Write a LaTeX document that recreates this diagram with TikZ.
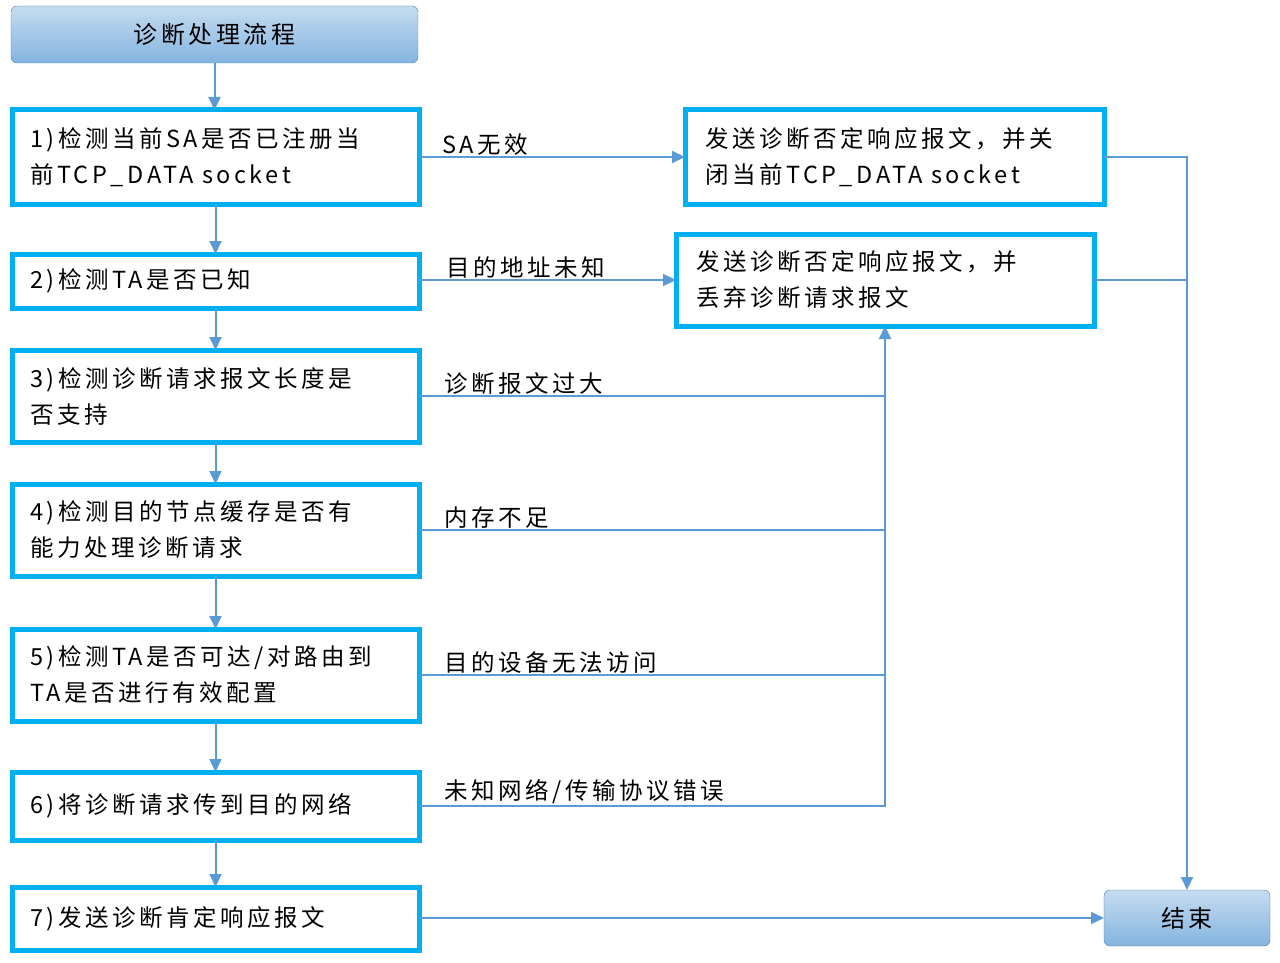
\documentclass[tikz,border=0pt]{standalone}
\usepackage{fontspec}
\setmainfont{Noto Sans CJK SC}[LetterSpace=15]
\usetikzlibrary{arrows.meta,calc}
\definecolor{ln}{HTML}{5B9BD5}
\definecolor{cy}{HTML}{00B0F0}
\tikzset{
 x=1pt,y=-1pt,
 lbox/.style={draw=cy,line width=5pt,outer sep=0pt,fill=white,anchor=north west,align=left,inner sep=0pt,font=\fontsize{23.5}{36}\selectfont},
 rbox/.style={draw=ln!80!black,rounded corners=6pt,top color=ln!35!white,bottom color=ln!75!white,font=\fontsize{24}{28}\selectfont,inner sep=0pt,outer sep=0pt},
 con/.style={draw=ln,line width=2pt},
 arr/.style={con,-{Triangle[length=13pt,width=12pt]}},
 lab/.style={font=\fontsize{23.5}{28}\selectfont,anchor=south west,inner sep=1pt}
}
\newcommand{\bx}[6]{\node[lbox,minimum width=#3-#1,minimum height=#4-#2,text width=#3-#1-20] (#5) at (#1,#2) {#6};}
\begin{document}
\begin{tikzpicture}
\useasboundingbox (0,0) rectangle (1280,963);
\node[rbox,minimum width=407,minimum height=57] (t) at (214.5,34.5) {诊断处理流程};
\node[rbox,minimum width=166,minimum height=56] (e) at (1187,918) {结束};
\bx{12}{110}{419}{204}{b1}{\hspace*{8pt}1)检测当前SA是否已注册当\\\hspace*{8pt}前TCP\_DATA socket}
\bx{12}{254}{419}{308}{b2}{\hspace*{8pt}2)检测TA是否已知}
\bx{12}{350}{419}{442}{b3}{\hspace*{8pt}3)检测诊断请求报文长度是\\\hspace*{8pt}否支持}
\bx{12}{484}{419}{576}{b4}{\hspace*{8pt}4)检测目的节点缓存是否有\\\hspace*{8pt}能力处理诊断请求}
\bx{12}{629}{419}{721}{b5}{\hspace*{8pt}5)检测TA是否可达/对路由到\\\hspace*{8pt}TA是否进行有效配置}
\bx{12}{772}{419}{840}{b6}{\hspace*{8pt}6)将诊断请求传到目的网络}
\bx{12}{887}{419}{950}{b7}{\hspace*{8pt}7)发送诊断肯定响应报文}
\bx{685}{110}{1104}{204}{r1}{\hspace*{10pt}发送诊断否定响应报文，并关\\\hspace*{10pt}闭当前TCP\_DATA socket}
\bx{676}{234}{1094}{326}{r2}{\hspace*{10pt}发送诊断否定响应报文，并\\\hspace*{10pt}丢弃诊断请求报文}
\draw[arr] (t.south) -- (t.south|-b1.north);
\foreach \a/\b in {b1/b2,b2/b3,b3/b4,b4/b5,b5/b6,b6/b7} \draw[arr] (\a.south) -- (\b.north);
\draw[arr] (b1.east) -- node[lab,pos=0.08,anchor=south west]{SA无效} (b1.east-|r1.west);
\draw[arr] (b2.east|-r2.west) -- node[lab,pos=0.1,anchor=south west]{目的地址未知} (r2.west);
\coordinate (j) at (885,805);
\draw[arr] (b6.east) -- node[lab,pos=0.05,anchor=south west]{未知网络/传输协议错误} (b6.east-|j) -- (j|-r2.south);
\draw[con] (b3.east) -- node[lab,pos=0.05,anchor=south west]{诊断报文过大} (b3.east-|j);
\draw[con] (b4.east) -- node[lab,pos=0.05,anchor=south west]{内存不足} (b4.east-|j);
\draw[con] (b5.east) -- node[lab,pos=0.05,anchor=south west]{目的设备无法访问} (b5.east-|j);
\draw[arr] (r1.east) -- (1187,157) -- (e.north);
\draw[con] (r2.east) -- (1187,280);
\draw[arr] (b7.east|-e.west) -- (e.west);
\end{tikzpicture}
\end{document}
